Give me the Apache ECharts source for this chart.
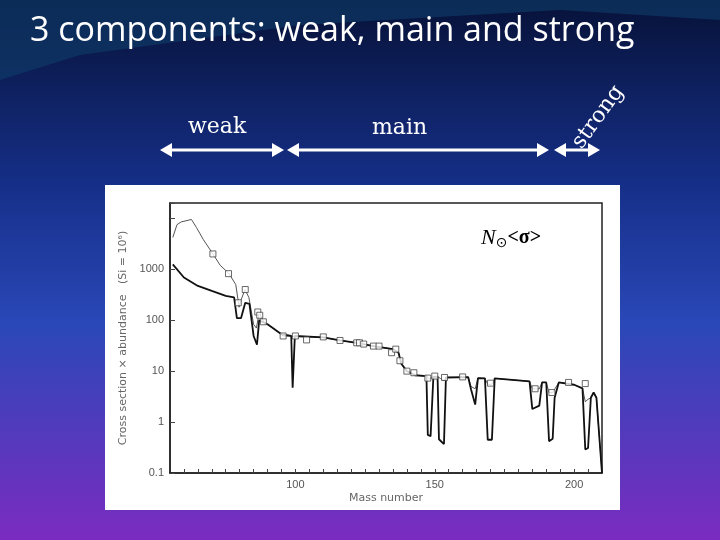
<!DOCTYPE html>
<html><head><meta charset="utf-8">
<script src="https://cdn.jsdelivr.net/npm/echarts@6/dist/echarts.min.js"></script>
<style>html,body{margin:0;padding:0;}#c{width:720px;height:540px;}</style>
</head><body><div id="c"></div>
<script>
const titleText = "3 components: weak, main and strong";
const yTicks = [0.1, 1, 10, 100, 1000];
const xTicks = [100, 150, 200];
// thin (upper) curve
const upperCurve = [[56,4200],[57.5,7500],[59,8500],[62.7,9500],[64.5,6600],[67,3800],[70.4,2000],[73,1200],[76.2,820],[78.6,500],[79.8,180],[80.5,250],[81.9,400],[83.3,280],[85,83],[86,70],[87,140],[88.6,93],[92,70],[95.6,49],[100,48],[110,46],[116,40],[122,36],[128,31],[135,27],[137,23],[138,14],[140,10],[143,8.3],[147,8],[148,7],[149.5,7.7],[151,7.8],[152,7.2],[153.3,6.5],[154,7.5],[162,7.6],[163,5],[164.5,4.5],[165.5,7.3],[168,7.2],[169,5.5],[170.5,5.5],[171.5,7.2],[184,6.3],[185,4.5],[187.5,4.5],[188.5,6],[190,6],[191,3.8],[192.3,3.8],[194.5,6],[200,5.4],[203,4.6],[204,2.5],[205,2.8],[206,3],[207,3.8],[208,3],[210,0.1]];
// thick (lower) curve
const lowerCurve = [[56,1250],[60,690],[65,470],[70,375],[75,300],[78,280],[79,110],[80.5,110],[82,220],[83.5,210],[85,49],[86.2,33],[87,100],[90,83],[95,53],[98.5,49],[99,4.7],[99.8,49],[110,46],[116,40],[122,36],[128,31],[135,27],[137,23],[138,14],[140,10],[143,8.3],[147,8],[147.5,0.56],[148.5,0.53],[149.5,7.7],[151,7.8],[151.5,0.46],[153.3,0.37],[154,7.5],[162,7.6],[163,4.4],[164.5,2.2],[165.5,7.3],[168,7.2],[169,0.45],[170.5,0.45],[171.5,7.2],[184,6.3],[185,1.8],[187.5,2.1],[188.5,6],[190,6],[191,0.42],[192.3,0.47],[193,3],[194.5,6],[200,5.4],[203,4.6],[204,0.29],[205,0.31],[206,3],[207,3.8],[208,3],[210,0.1]];
// measured points (squares)
const measured = [[70.4,2000],[76,820],[79.5,220],[82,400],[86.5,145],[87.2,125],[88.5,93],[95.6,49],[100,49],[104,41],[110,47],[116,40],[122,36],[123,36],[124.5,34],[128,31],[130,31],[134.5,23],[136,27],[137.5,16],[140,10],[142.5,9.3],[147.5,7.3],[150,8],[153.5,7.5],[160,7.7],[170,5.8],[186,4.5],[192,3.8],[198,6],[204,5.7]];

const chart = echarts.init(document.getElementById('c'));
const white = '#ffffff';
function arrow(x1, x2, y) {
  return [
    {type:'line', shape:{x1:x1+8,y1:y,x2:x2-8,y2:y}, style:{stroke:white,lineWidth:3}, z:20},
    {type:'polygon', shape:{points:[[x1,y],[x1+12,y-7],[x1+12,y+7]]}, style:{fill:white}, z:20},
    {type:'polygon', shape:{points:[[x2,y],[x2-12,y-7],[x2-12,y+7]]}, style:{fill:white}, z:20}
  ];
}
chart.setOption({
  animation:false,
  backgroundColor:{type:'linear',x:0,y:0,x2:0,y2:1,colorStops:[
    {offset:0,color:'#071238'},{offset:0.35,color:'#16308a'},{offset:0.6,color:'#2a48b8'},{offset:1,color:'#7b2cc0'}]},
  graphic:[
    {type:'polygon', shape:{points:[[0,0],[720,0],[720,20],[560,10],[300,25],[80,55],[0,80]]}, style:{fill:'#0f3d6b',opacity:0.6}, z:-20},
    {type:'text', left:30, top:14, style:{text:titleText, fill:white, font:'34px "Open Sans", sans-serif'}, z:20},
    {type:'text', x:188, y:116, style:{text:'weak', fill:white, font:'22px "DejaVu Serif", serif'}, z:20},
    {type:'text', x:372, y:117, style:{text:'main', fill:white, font:'22px "DejaVu Serif", serif'}, z:20},
    {type:'text', x:568, y:140, rotation:Math.PI*0.3, style:{text:'strong', fill:white, font:'22px "DejaVu Serif", serif'}, z:20},
    ...arrow(160,284,150), ...arrow(287,549,150), ...arrow(554,600,150),
    {type:'rect', shape:{x:105,y:185,width:515,height:325}, style:{fill:'#ffffff'}, z:-10},
    {type:'text', x:481, y:226, style:{rich:{
      n:{font:'italic 22px "Liberation Serif", serif', fill:'#000'},
      s:{font:'14px "DejaVu Sans", sans-serif', fill:'#000', padding:[10,0,0,0]},
      g:{font:'bold 20px "Liberation Serif", serif', fill:'#000'}},
      text:'{n|N}{s|⊙}{g|<σ>}'}, z:20}
  ],
  grid:{left:170, top:203, width:432, height:270, show:true, borderColor:'#222', borderWidth:1.5, backgroundColor:'transparent'},
  xAxis:{type:'value', min:55, max:210, interval:5,
    name:'Mass number', nameLocation:'middle', nameGap:20, nameTextStyle:{color:'#666',fontSize:11,fontFamily:'DejaVu Sans'},
    axisLine:{lineStyle:{color:'#222',width:1.5}}, axisTick:{inside:true,length:4,lineStyle:{color:'#444'}},
    axisLabel:{color:'#555',fontSize:11,margin:6, showMinLabel:false, showMaxLabel:false, formatter:v=>xTicks.includes(v)?String(v):''},
    splitLine:{show:false}},
  yAxis:{type:'log', logBase:10, min:0.1, max:20000,
    name:'Cross section × abundance   (Si = 10⁶)', nameLocation:'middle', nameGap:38, nameTextStyle:{color:'#666',fontSize:11,fontFamily:'DejaVu Sans'},
    axisLine:{lineStyle:{color:'#222',width:1.5}}, axisTick:{inside:true,length:5,lineStyle:{color:'#444'}},
    axisLabel:{color:'#555',fontSize:11,margin:6, formatter:v=>yTicks.some(t=>Math.abs(t-v)<1e-9*v+1e-12)?String(v):''},
    splitLine:{show:false}},
  series:[
    {type:'line', data:upperCurve, symbol:'none', lineStyle:{color:'#555',width:1}},
    {type:'line', data:lowerCurve, symbol:'none', lineStyle:{color:'#111',width:1.8}},
    {type:'scatter', data:measured, symbol:'rect', symbolSize:6, itemStyle:{color:'#fff',borderColor:'#444',borderWidth:1}, z:5}
  ]
});
</script></body></html>
